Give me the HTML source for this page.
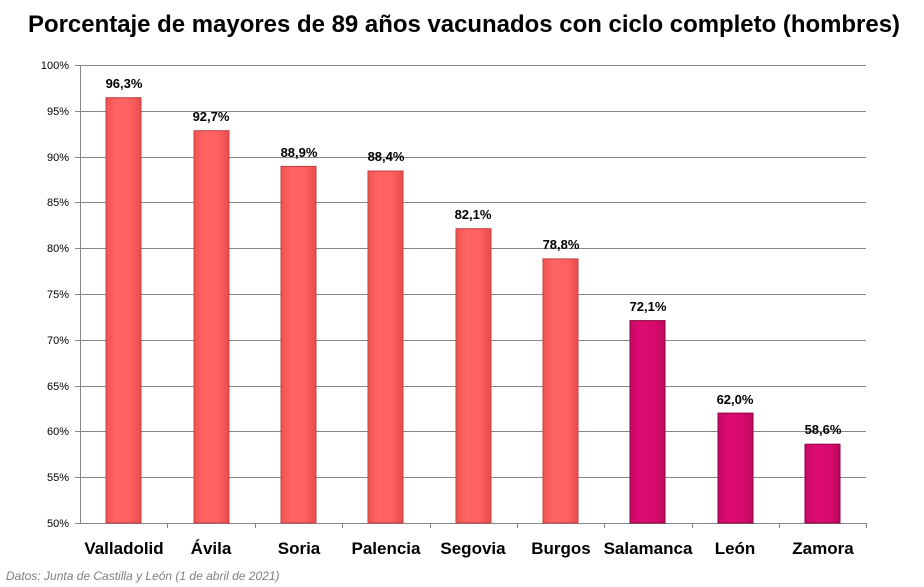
<!DOCTYPE html>
<html><head><meta charset="utf-8"><style>
html,body{margin:0;padding:0;background:#fff;}
svg{display:block;}
</style></head><body>
<svg width="924" height="587" xmlns="http://www.w3.org/2000/svg">
<defs>
<linearGradient id="r" x1="0" x2="1" y1="0" y2="0">
<stop offset="0" stop-color="#f25252"/><stop offset="0.3" stop-color="#ff6464"/><stop offset="0.7" stop-color="#ff5f5f"/><stop offset="1" stop-color="#e84c4c"/></linearGradient>
<linearGradient id="m" x1="0" x2="1" y1="0" y2="0">
<stop offset="0" stop-color="#c80864"/><stop offset="0.3" stop-color="#dd0c72"/><stop offset="0.7" stop-color="#d80a6e"/><stop offset="1" stop-color="#bf0660"/></linearGradient>
</defs>
<text x="464" y="32" text-anchor="middle" font-family="Liberation Sans, sans-serif" font-weight="bold" font-size="24" textLength="872" lengthAdjust="spacingAndGlyphs" fill="#000">Porcentaje de mayores de 89 años vacunados con ciclo completo (hombres)</text>
<g stroke="#868686" stroke-width="1">
<line x1="75" y1="65.5" x2="866" y2="65.5"/>
<line x1="75" y1="111.5" x2="866" y2="111.5"/>
<line x1="75" y1="157.5" x2="866" y2="157.5"/>
<line x1="75" y1="202.5" x2="866" y2="202.5"/>
<line x1="75" y1="248.5" x2="866" y2="248.5"/>
<line x1="75" y1="294.5" x2="866" y2="294.5"/>
<line x1="75" y1="340.5" x2="866" y2="340.5"/>
<line x1="75" y1="386.5" x2="866" y2="386.5"/>
<line x1="75" y1="431.5" x2="866" y2="431.5"/>
<line x1="75" y1="477.5" x2="866" y2="477.5"/>
<line x1="75" y1="523.5" x2="866" y2="523.5"/>
<line x1="80.5" y1="65" x2="80.5" y2="523"/>
<line x1="167.5" y1="523" x2="167.5" y2="528"/><line x1="255.5" y1="523" x2="255.5" y2="528"/><line x1="342.5" y1="523" x2="342.5" y2="528"/><line x1="430.5" y1="523" x2="430.5" y2="528"/><line x1="517.5" y1="523" x2="517.5" y2="528"/><line x1="604.5" y1="523" x2="604.5" y2="528"/><line x1="692.5" y1="523" x2="692.5" y2="528"/><line x1="779.5" y1="523" x2="779.5" y2="528"/><line x1="866.5" y1="523" x2="866.5" y2="528"/>
</g>
<g font-family="Liberation Sans, sans-serif" font-size="11" fill="#000" text-anchor="end">
<text x="69" y="69">100%</text><text x="69" y="115">95%</text><text x="69" y="161">90%</text><text x="69" y="206">85%</text><text x="69" y="252">80%</text><text x="69" y="298">75%</text><text x="69" y="344">70%</text><text x="69" y="390">65%</text><text x="69" y="435">60%</text><text x="69" y="481">55%</text><text x="69" y="527">50%</text>
</g>
<g stroke-width="1">
<rect x="106" y="97.7" width="35" height="425.3" fill="url(#r)" stroke="#c04040"/>
<rect x="194" y="130.7" width="35" height="392.3" fill="url(#r)" stroke="#c04040"/>
<rect x="281" y="166.4" width="35" height="356.6" fill="url(#r)" stroke="#c04040"/>
<rect x="368" y="171" width="35" height="352" fill="url(#r)" stroke="#c04040"/>
<rect x="456" y="228.7" width="35" height="294.3" fill="url(#r)" stroke="#c04040"/>
<rect x="543" y="258.9" width="35" height="264.1" fill="url(#r)" stroke="#c04040"/>
<rect x="630" y="320.6" width="35" height="202.4" fill="url(#m)" stroke="#8a0540"/>
<rect x="718" y="413.1" width="35" height="109.9" fill="url(#m)" stroke="#8a0540"/>
<rect x="805" y="444.2" width="35" height="78.8" fill="url(#m)" stroke="#8a0540"/>
</g>
<g font-family="Liberation Sans, sans-serif" font-weight="bold" font-size="13" fill="#000" text-anchor="middle">
<text x="124" y="88">96,3%</text><text x="211" y="121">92,7%</text><text x="299" y="157">88,9%</text><text x="386" y="161">88,4%</text><text x="473" y="219">82,1%</text><text x="561" y="249">78,8%</text><text x="648" y="311">72,1%</text><text x="735" y="404">62,0%</text><text x="823" y="434">58,6%</text>
</g>
<g font-family="Liberation Sans, sans-serif" font-weight="bold" font-size="17" fill="#000" text-anchor="middle">
<text x="124" y="554">Valladolid</text><text x="211" y="554">Ávila</text><text x="299" y="554">Soria</text><text x="386" y="554">Palencia</text><text x="473" y="554">Segovia</text><text x="561" y="554">Burgos</text><text x="648" y="554">Salamanca</text><text x="735" y="554">León</text><text x="823" y="554">Zamora</text>
</g>
<text x="6" y="580" font-family="Liberation Sans, sans-serif" font-style="italic" font-size="12" fill="#7f7f7f">Datos: Junta de Castilla y León (1 de abril de 2021)</text>
</svg>
</body></html>
